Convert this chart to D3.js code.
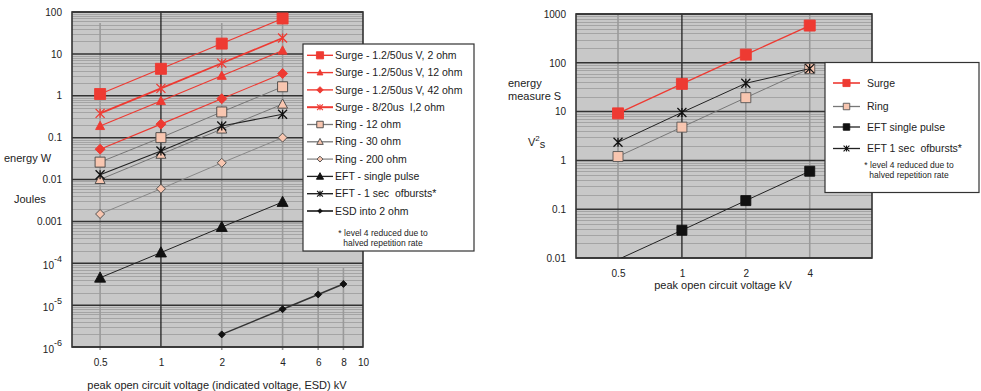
<!DOCTYPE html>
<html>
<head>
<meta charset="utf-8">
<script src="https://cdn.jsdelivr.net/npm/d3@7"></script>
<style>
  body { margin: 0; background: #fff; }
  svg { font-family: "Liberation Sans", Arial, sans-serif; }
  text { white-space: pre; }
  .tick text { fill: #222; }
</style>
</head>
<body>
<div id="chart"></div>
<script>
// ---- data ----
const voltsL = [0.5, 1, 2, 4];
const esdVolts = [2, 4, 6, 8];
const surge2 = [1.1, 4.4, 17.6, 70];
const surge12 = [0.19, 0.75, 3, 12];
const surge42 = [0.053, 0.21, 0.85, 3.4];
const surge820 = [0.38, 1.5, 6, 24];
const ring12 = [0.026, 0.1, 0.41, 1.64];
const ring30 = [0.01, 0.04, 0.16, 0.63];
const ring200 = [0.0015, 0.006, 0.025, 0.1];
const eftSingle = [4.5e-5, 1.8e-4, 7.3e-4, 2.9e-3];
const eftBurst = [0.013, 0.048, 0.19, 0.36];
const esd2ohm = [2e-6, 8e-6, 1.8e-5, 3.2e-5];

const xTicksL = [0.5, 1, 2, 4, 6, 8, 10];
const yTicksL = [1e-6, 1e-5, 1e-4, 0.001, 0.01, 0.1, 1, 10, 100];

const voltsR = [0.5, 1, 2, 4];
const surgeS = [9.2, 37, 147, 580];
const ringS = [1.2, 4.8, 19.3, 76];
const eftSingleS = [0.0093, 0.037, 0.15, 0.6];
const eftBurstS = [2.35, 9.6, 38, 76];

const xTicksR = [0.5, 1, 2, 4];
const yTicksR = [0.01, 0.1, 1, 10, 100, 1000];

const footnote = ["* level 4 reduced due to", "halved repetition rate"];

const RED = "#ee3a32";
const PINK = "#f8c6b0";

const svg = d3.select("#chart").append("svg")
  .attr("width", 981).attr("height", 391);

// marker paths, s = overall width in px
function markerPath(type, s) {
  const h = s / 2;
  const p = d3.path();
  if (type == "asterisk") {
    p.moveTo(-h, -h); p.lineTo(h, h);
    p.moveTo(-h, h); p.lineTo(h, -h);
    p.moveTo(0, -h); p.lineTo(0, h);
  } else if (type == "square") {
    p.rect(-h, -h, s, s);
  } else if (type == "triangle") {
    p.moveTo(0, -h * 1.05); p.lineTo(h, h * 0.8); p.lineTo(-h, h * 0.8); p.closePath();
  } else {
    p.moveTo(0, -h); p.lineTo(h, 0); p.lineTo(0, h); p.lineTo(-h, 0); p.closePath();
  }
  return p.toString();
}

function drawPanel(cfg) {
  const g = svg.append("g");
  const x = cfg.x, y = cfg.y;
  const [x0, x1] = x.range();
  const [y1, y0] = y.range();

  g.append("rect").attr("x", x0).attr("y", y0).attr("width", x1 - x0).attr("height", y1 - y0)
    .attr("fill", "#c8c8c8");

  // minor horizontal grid
  const dom = y.domain();
  const minor = [];
  for (let p = Math.round(Math.log10(dom[0])); p < Math.round(Math.log10(dom[1])); p++) {
    for (let k = 2; k <= 9; k++) minor.push(k * Math.pow(10, p));
  }
  g.selectAll(".minor").data(minor).enter().append("line")
    .attr("x1", x0).attr("x2", x1)
    .attr("y1", d => Math.round(y(d)) + 0.5).attr("y2", d => Math.round(y(d)) + 0.5)
    .attr("stroke", "#a4a4a4").attr("stroke-width", 1);

  // vertical grid
  g.selectAll(".vgrid").data(cfg.vgrid).enter().append("line")
    .attr("x1", d => x(d.v)).attr("x2", d => x(d.v))
    .attr("y1", d => d.top).attr("y2", d => d.bottom)
    .attr("stroke", d => d.dark ? "#222" : "#9a9a9a")
    .attr("stroke-width", d => d.dark ? 1.3 : 1.6);

  // major horizontal grid
  g.selectAll(".major").data(cfg.yTicks).enter().append("line")
    .attr("x1", x0).attr("x2", x1)
    .attr("y1", d => y(d)).attr("y2", d => y(d))
    .attr("stroke", "#333").attr("stroke-width", 1.5);

  g.append("rect").attr("x", x0).attr("y", y0).attr("width", x1 - x0).attr("height", y1 - y0)
    .attr("fill", "none").attr("stroke", "#333").attr("stroke-width", 1.6);

  // clip for series
  const clipId = "clip" + cfg.id;
  svg.append("clipPath").attr("id", clipId).append("rect")
    .attr("x", x0).attr("y", y0).attr("width", x1 - x0).attr("height", y1 - y0);

  const sg = g.append("g").attr("clip-path", `url(#${clipId})`);
  cfg.series.forEach(s => {
    const pts = s.xs.map((v, i) => [v, s.vals[i]]);
    sg.append("path")
      .attr("d", d3.line().x(d => x(d[0])).y(d => y(d[1]))(pts))
      .attr("fill", "none").attr("stroke", s.line).attr("stroke-width", s.lw);
    sg.selectAll(null).data(pts.filter(d => d[1] >= dom[0])).enter().append("path")
      .attr("transform", d => `translate(${x(d[0])},${y(d[1])})`)
      .attr("d", markerPath(s.marker, s.size))
      .attr("fill", s.marker == "asterisk" ? "none" : s.fill)
      .attr("stroke", s.marker == "asterisk" ? s.fill : s.stroke)
      .attr("stroke-width", s.marker == "asterisk" ? 1.3 : 0.9);
  });

  // axes
  const xa = g.append("g").attr("transform", `translate(0,${y1})`)
    .call(d3.axisBottom(x).tickValues(cfg.xTicks).tickSize(0).tickPadding(cfg.xPad).tickFormat(d3.format("")));
  xa.select(".domain").remove();
  xa.selectAll("text").attr("font-size", 10);

  const ya = g.append("g").attr("transform", `translate(${x0},0)`)
    .call(d3.axisLeft(y).tickValues(cfg.yTicks).tickSize(0).tickPadding(cfg.yPad)
      .tickFormat(d => d >= 0.001 ? String(+d.toPrecision(1)) : ""));
  ya.select(".domain").remove();
  ya.selectAll("text").attr("font-size", 10).each(function(d) {
    if (d < 0.001) {
      const t = d3.select(this).attr("dy", "0.5em");
      t.append("tspan").text("10");
      t.append("tspan").attr("dy", "-0.75em").attr("font-size", 9)
        .text(String(Math.round(Math.log10(d))));
    }
  });

  // legend
  const L = cfg.legend;
  const lg = svg.append("g");
  lg.append("rect").attr("x", L.x).attr("y", L.y).attr("width", L.w).attr("height", L.h)
    .attr("fill", "#fff").attr("stroke", "#333").attr("stroke-width", 1.2);
  cfg.series.forEach((s, i) => {
    const yy = L.rows[i];
    lg.append("line").attr("x1", L.lx0).attr("x2", L.lx1).attr("y1", yy).attr("y2", yy)
      .attr("stroke", s.line).attr("stroke-width", s.lw + 0.3);
    lg.append("path").attr("transform", `translate(${(L.lx0 + L.lx1) / 2},${yy})`)
      .attr("d", markerPath(s.marker, s.size * 0.65))
      .attr("fill", s.marker == "asterisk" ? "none" : s.fill)
      .attr("stroke", s.marker == "asterisk" ? s.fill : s.stroke)
      .attr("stroke-width", s.marker == "asterisk" ? 1.1 : 0.9);
    lg.append("text").attr("x", L.tx).attr("y", yy).attr("dy", "0.35em")
      .attr("font-size", 10.5).attr("fill", "#222").text(s.name);
  });
  footnote.forEach((f, i) => {
    lg.append("text").attr("x", L.fx).attr("y", L.fy[i]).attr("dy", "0.35em")
      .attr("text-anchor", "middle").attr("font-size", 8.5).attr("fill", "#222").text(f);
  });
}

// ---- left panel ----
const xL = d3.scaleLog().domain([0.363, 10]).range([72, 363]);
const yL = d3.scaleLog().domain([1e-6, 100]).range([347, 12]);

drawPanel({
  id: "L", x: xL, y: yL, xTicks: xTicksL, yTicks: yTicksL, xPad: 12, yPad: 10,
  vgrid: [
    {v: 0.5, top: 23, bottom: 350}, {v: 2, top: 23, bottom: 350}, {v: 4, top: 23, bottom: 350},
    {v: 6, top: 268, bottom: 350}, {v: 8, top: 268, bottom: 350}, {v: 1, top: 12, bottom: 347, dark: true}
  ],
  series: [
    {name: "Surge - 1.2/50us V, 2 ohm", xs: voltsL, vals: surge2, marker: "square", size: 11, fill: RED, stroke: RED, line: RED, lw: 1.1},
    {name: "Surge - 1.2/50us V, 12 ohm", xs: voltsL, vals: surge12, marker: "triangle", size: 9, fill: RED, stroke: RED, line: RED, lw: 1.1},
    {name: "Surge - 1.2/50us V, 42 ohm", xs: voltsL, vals: surge42, marker: "diamond", size: 10, fill: RED, stroke: RED, line: RED, lw: 1.1},
    {name: "Surge - 8/20us  I,2 ohm", xs: voltsL, vals: surge820, marker: "asterisk", size: 9, fill: RED, stroke: RED, line: RED, lw: 1.7},
    {name: "Ring - 12 ohm", xs: voltsL, vals: ring12, marker: "square", size: 10, fill: PINK, stroke: "#444", line: "#777", lw: 1},
    {name: "Ring - 30 ohm", xs: voltsL, vals: ring30, marker: "triangle", size: 10, fill: PINK, stroke: "#444", line: "#777", lw: 1},
    {name: "Ring - 200 ohm", xs: voltsL, vals: ring200, marker: "diamond", size: 9, fill: PINK, stroke: "#444", line: "#888", lw: 1},
    {name: "EFT - single pulse", xs: voltsL, vals: eftSingle, marker: "triangle", size: 11, fill: "#111", stroke: "#111", line: "#222", lw: 1},
    {name: "EFT - 1 sec  ofbursts*", xs: voltsL, vals: eftBurst, marker: "asterisk", size: 9, fill: "#111", stroke: "#111", line: "#222", lw: 1.1},
    {name: "ESD into 2 ohm", xs: esdVolts, vals: esd2ohm, marker: "diamond", size: 7, fill: "#111", stroke: "#111", line: "#333", lw: 1.5}
  ],
  legend: {x: 303, y: 44, w: 171, h: 207, lx0: 307, lx1: 333, tx: 335,
    rows: [55.3, 72.6, 89.9, 107.2, 124.5, 141.8, 159.1, 176.4, 193.7, 211],
    fx: 383, fy: [233, 243]}
});

// ---- right panel ----
const xR = d3.scaleLog().domain([0.317, 7.86]).range([576, 872]);
const yR = d3.scaleLog().domain([0.01, 1000]).range([258, 14]);

drawPanel({
  id: "R", x: xR, y: yR, xTicks: xTicksR, yTicks: yTicksR, xPad: 12, yPad: 10,
  vgrid: [
    {v: 0.5, top: 14, bottom: 258}, {v: 2, top: 14, bottom: 258}, {v: 4, top: 14, bottom: 258},
    {v: 1, top: 14, bottom: 258, dark: true}
  ],
  series: [
    {name: "Surge", xs: voltsR, vals: surgeS, marker: "square", size: 11, fill: RED, stroke: RED, line: RED, lw: 1.3},
    {name: "Ring", xs: voltsR, vals: ringS, marker: "square", size: 10, fill: PINK, stroke: "#555", line: "#777", lw: 1},
    {name: "EFT single pulse", xs: voltsR, vals: eftSingleS, marker: "square", size: 10, fill: "#111", stroke: "#111", line: "#222", lw: 1},
    {name: "EFT 1 sec  ofbursts*", xs: voltsR, vals: eftBurstS, marker: "asterisk", size: 9, fill: "#111", stroke: "#111", line: "#222", lw: 1}
  ],
  legend: {x: 825, y: 62.5, w: 154, h: 130, lx0: 833, lx1: 860, tx: 867,
    rows: [83, 106.5, 127, 148.5], fx: 909, fy: [165.5, 175.5]}
});

// ---- axis titles ----
const title = (x, y, txt, size, anchor) => svg.append("text").attr("x", x).attr("y", y)
  .attr("font-size", size).attr("fill", "#222").attr("text-anchor", anchor || "start").text(txt);

title(4, 162, "energy W", 11);
title(14, 203, "Joules", 11);
title(217, 389, "peak open circuit voltage (indicated voltage, ESD) kV", 11, "middle");

title(508, 87, "energy", 11);
title(508, 100, "measure S", 11);
const vs = title(528, 146, "", 11);
vs.append("tspan").text("V");
vs.append("tspan").attr("dy", "-0.6em").attr("font-size", 8).text("2");
vs.append("tspan").attr("dy", "0.6em").text("s");
title(723, 289, "peak open circuit voltage kV", 11, "middle");
</script>
</body>
</html>
